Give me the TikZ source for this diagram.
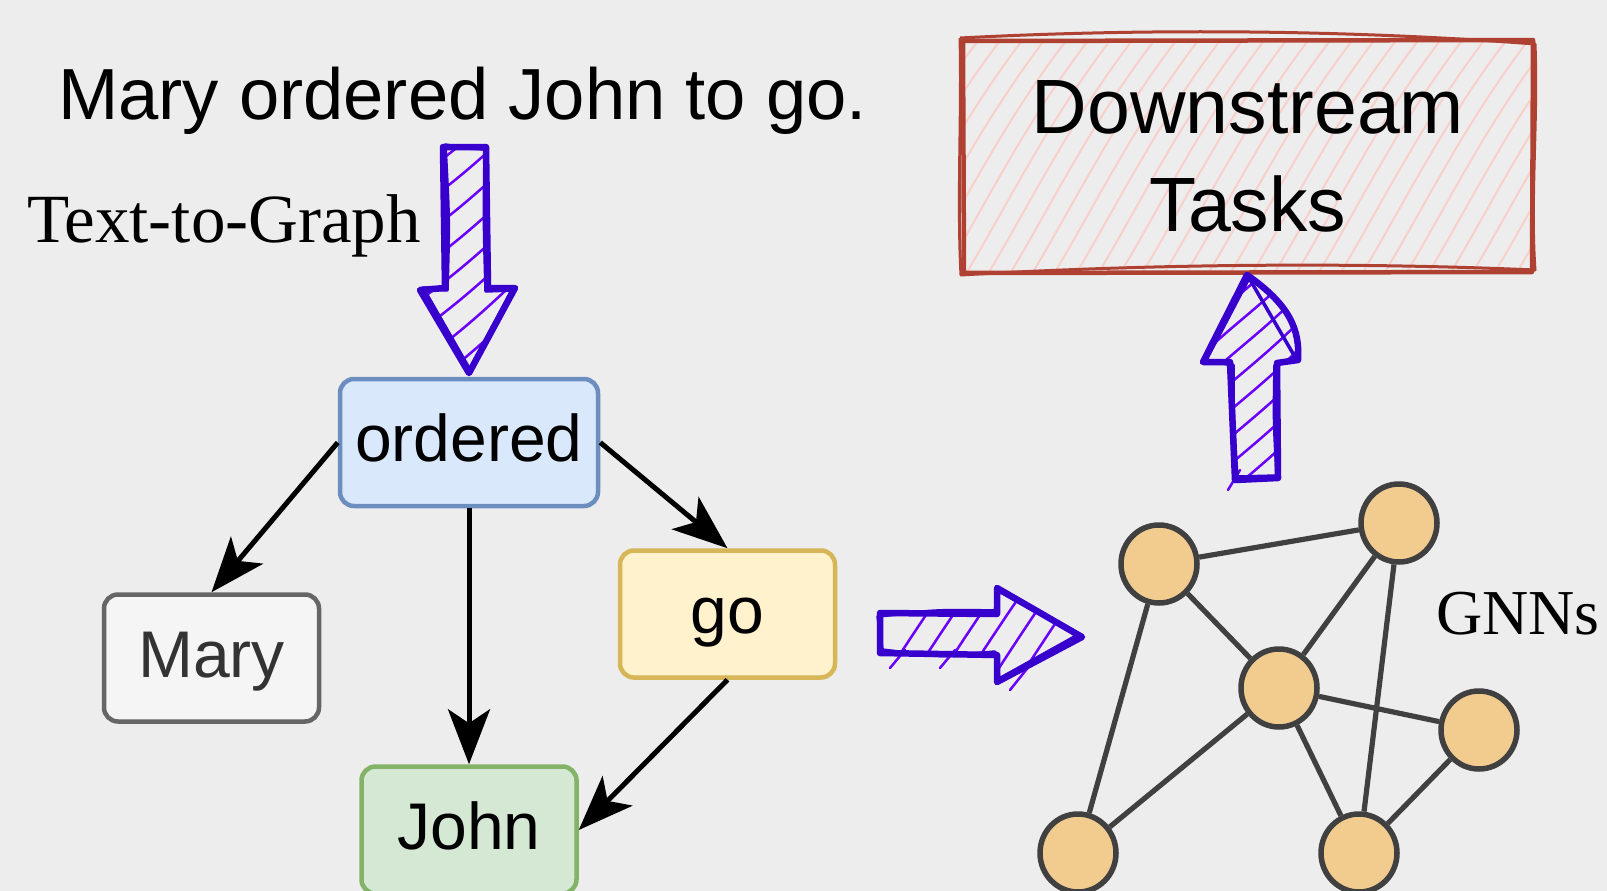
\documentclass[tikz,border=0pt]{standalone}
\usepackage{fontspec}
\setmainfont{Liberation Serif}
\newfontfamily\arialf{Liberation Sans}
\usetikzlibrary{arrows.meta,shapes.geometric}
\definecolor{bg}{RGB}{237,237,237}
\definecolor{skS}{HTML}{3700CC}
\definecolor{skF}{HTML}{6A00FF}
\definecolor{boxS}{HTML}{AE4132}
\definecolor{boxF}{HTML}{F9CFCA}
\definecolor{blueF}{HTML}{DAE8FC}\definecolor{blueS}{HTML}{6C8EBF}
\definecolor{greyF}{HTML}{F5F5F5}\definecolor{greyS}{HTML}{666666}
\definecolor{yellowF}{HTML}{FFF2CC}\definecolor{yellowS}{HTML}{D6B656}
\definecolor{greenF}{HTML}{D5E8D4}\definecolor{greenS}{HTML}{82B366}
\definecolor{gnodeF}{HTML}{F2CC8F}
\definecolor{gnodeS}{HTML}{404040}
\definecolor{greyT}{HTML}{333333}
\tikzset{
  wordbox/.style={rectangle, rounded corners=14pt, line width=4.5pt, inner sep=0pt,
    minimum width=215pt, minimum height=127pt,
    font={\arialf\fontsize{66}{79}\selectfont}, text height=46pt, text depth=8pt},
  depedge/.style={draw=black, line width=5pt,
    -{Stealth[length=55pt,width=42pt,inset=14pt]}},
  gnode/.style={ellipse, draw=gnodeS, fill=gnodeF, line width=5.5pt,
    minimum width=76pt, minimum height=78pt, inner sep=0pt},
  gedge/.style={draw=gnodeS, line width=5.2pt},
  skout/.style={draw=skS, line width=6.5pt, line join=round, line cap=round},
  skout2/.style={draw=skS, line width=3.5pt, line join=round, line cap=round},
  hach/.style={draw=skF, line width=2.5pt, line cap=round},
  boxhach/.style={draw=boxF, line width=2pt},
  boxout/.style={draw=boxS, line width=4.5pt, line join=round},
  boxout2/.style={draw=boxS, line width=3pt, line join=round}
}
\begin{document}
\begin{tikzpicture}[x=1pt,y=-1pt]
\useasboundingbox[fill=bg] (0,0) rectangle (1607,891);

% ---- texts
\node[anchor=base west, inner sep=0pt, font={\arialf\fontsize{72.4}{86}\selectfont}] (sentence) at (58,119) {Mary ordered John to go.};
\node[anchor=base west, inner sep=0pt, font={\fontsize{69}{80}\selectfont}] (t2g) at (27,242) {Text-to-Graph};
\node[anchor=base west, inner sep=0pt, font={\fontsize{64}{75}\selectfont}] (gnns) at (1436,634) {GNNs};

% ---- dependency graph
\node[wordbox, fill=blueF, draw=blueS, minimum width=258pt] (ordered) at (469,442.5) {ordered};
\node[wordbox, fill=greyF, draw=greyS, text=greyT] (mary) at (211.5,658) {Mary};
\node[wordbox, fill=yellowF, draw=yellowS] (go) at (727.5,614) {go};
\node[wordbox, fill=greenF, draw=greenS] (john) at (469,830) {John};

\draw[depedge] (ordered.west) -- (mary.north);
\draw[depedge] (ordered.south) -- (john.north);
\draw[depedge] (ordered.east) -- (go.north);
\draw[depedge] (go.south) -- (john.east);

% ---- GNN graph
\node[gnode] (gA) at (1159,564) {};
\node[gnode] (gB) at (1399,523) {};
\node[gnode] (gC) at (1279,688) {};
\node[gnode] (gD) at (1479,730) {};
\node[gnode] (gE) at (1078,853) {};
\node[gnode] (gF) at (1359,853) {};
\draw[gedge] (gA) -- (gB);
\draw[gedge] (gA) -- (gC);
\draw[gedge] (gA) -- (gE);
\draw[gedge] (gB) -- (gC);
\draw[gedge] (gB) -- (gF);
\draw[gedge] (gC) -- (gD);
\draw[gedge] (gC) -- (gE);
\draw[gedge] (gC) -- (gF);
\draw[gedge] (gD) -- (gF);

% ---- Downstream tasks box (sketch fill and outline, then label)
\begin{scope}
  \clip (963,40) rectangle (1533,272);
  \foreach \k in {0,...,40} \draw[boxhach] (780+\k*22,290) .. controls (830+\k*22,210) and (870+\k*22,120) .. (950+\k*22,20);
\end{scope}
\draw[boxout] (963,41) -- (1533,40) -- (1532,272) -- (964,273) -- cycle;
\draw[boxout2] (960,38) .. controls (1150,28) and (1350,30) .. (1535,44)
  .. controls (1538,120) and (1530,200) .. (1535,270)
  .. controls (1350,262) and (1150,264) .. (961,275)
  .. controls (957,200) and (962,110) .. (960,38);
\node[minimum width=570pt, minimum height=232pt, inner sep=0pt, align=center,
  font={\arialf\fontsize{77}{98}\selectfont}] (tasks) at (1248,156) {Downstream\\Tasks};

% ---- sketch arrow: Text-to-Graph (down)
\begin{scope}
  \clip (443,147) -- (486,147) -- (488,288) -- (515,288) -- (469,373) -- (420,290) -- (445,288) -- cycle;
  \foreach \k in {0,...,14} \draw[hach] (400,160+\k*31) .. controls (440,130+\k*31) and (470,110+\k*31) .. (540,40+\k*31);
\end{scope}
\draw[skout] (443,147) -- (486,147) -- (488,288) -- (515,288) -- (469,373) -- (420,290) -- (445,288) -- cycle;
\draw[skout2] (445,145) .. controls (465,148) .. (485,149) .. controls (484,220) .. (486,291) -- (512,290) -- (470,370) -- (423,288) -- (447,290) .. controls (449,220) .. (445,145);

% ---- sketch arrow: to GNNs (right)
\begin{scope}
  \clip (880,613) -- (997,614) -- (997,588) -- (1082,637) -- (997,682) -- (997,655) -- (880,653) -- cycle;
  \foreach \k in {0,...,8} \draw[hach] (870+\k*27,700) .. controls (890+\k*27,670) and (915+\k*27,630) .. (950+\k*27,580);
\end{scope}
\draw[hach] (890,668) -- (905,650);
\draw[hach] (940,668) -- (955,650);
\draw[hach] (1010,690) -- (1030,665);
\draw[skout] (880,613) -- (997,614) -- (997,588) -- (1082,637) -- (997,682) -- (997,655) -- (880,653) -- cycle;
\draw[skout2] (878,616) .. controls (940,610) .. (995,611) -- (999,591) -- (1078,635) -- (999,679) -- (995,652) .. controls (940,657) .. (882,650) -- (878,616);

% ---- sketch arrow: to Downstream tasks (up)
\begin{scope}
  \clip (1247,275) .. controls (1290,305) and (1300,330) .. (1298,360) -- (1277,363) -- (1278,478) -- (1235,480) -- (1230,362) -- (1203,362) -- cycle;
  \foreach \k in {0,...,9} \draw[hach] (1200,330+\k*27) .. controls (1230,300+\k*27) and (1260,280+\k*27) .. (1300,240+\k*27);
\end{scope}
\draw[hach] (1228,490) -- (1240,470);
\draw[skout] (1247,275) .. controls (1290,305) and (1300,330) .. (1298,360) -- (1277,363) -- (1278,478) -- (1235,480) -- (1230,362) -- (1203,362) -- cycle;
\draw[skout2] (1249,278) -- (1295,357) -- (1275,365) .. controls (1274,420) .. (1277,476) -- (1237,477) .. controls (1233,420) .. (1233,365) -- (1206,360) -- (1249,278);
\end{tikzpicture}
\end{document}
